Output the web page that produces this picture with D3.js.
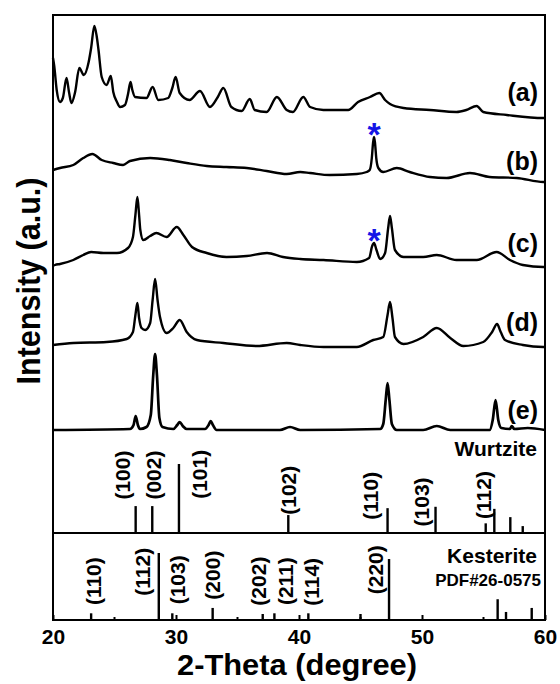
<!DOCTYPE html>
<html>
<head>
  <title>XRD patterns</title>
  <script src="https://d3js.org/d3.v7.min.js"></script>
  <style>
    body { margin: 0; background: #fff; }
    text { font-family: "Liberation Sans", Arial, sans-serif; font-weight: bold; fill: #000; }
  </style>
</head>
<body>
  <div id="chart"></div>

  <script>
    // measured patterns: [2-theta, intensity (a.u., stacked)]
    const traceA = [
      [20.0, 373], [20.1, 365], [20.3, 341], [20.57, 329], [20.8, 333], [21.1, 353], [21.3, 339],
      [21.5, 328], [21.8, 339], [22.14, 363], [22.5, 356], [22.9, 369], [23.1, 383], [23.36, 405],
      [23.55, 395], [23.7, 381], [23.96, 354], [24.36, 346], [24.7, 355], [24.9, 339], [25.2, 329],
      [25.45, 324], [25.85, 326], [26.1, 337], [26.3, 349], [26.45, 341], [26.67, 334], [27.6, 333],
      [28.1, 344], [28.56, 331], [29.37, 333], [29.7, 343], [29.97, 354], [30.3, 338], [31.1, 331],
      [31.95, 340], [32.76, 324], [33.4, 334], [33.85, 343], [34.5, 324], [35.34, 320], [36.0, 332],
      [36.4, 321], [37.37, 319], [38.2, 334], [39.0, 321], [39.5, 319], [40.35, 334], [40.9, 324],
      [41.98, 321], [44.0, 321], [44.8, 329], [45.77, 334], [46.53, 338], [47.0, 331], [47.4, 327],
      [48.5, 323], [50.65, 321], [52.8, 319], [53.6, 321], [54.45, 325], [54.98, 319], [56.9, 316],
      [59.86, 313], [60.0, 313]
    ];
    const traceB = [
      [20.0, 261], [20.57, 263], [21.65, 266], [22.46, 273], [23.2, 277], [23.96, 271], [24.9, 268],
      [25.7, 266], [26.26, 270], [27.9, 273], [29.5, 271], [30.87, 268], [32.5, 265], [34.1, 264],
      [35.75, 263], [37.37, 260], [39.0, 257], [40.1, 259], [40.9, 258], [42.5, 256], [44.7, 257],
      [45.5, 259], [45.75, 261], [45.92, 273], [46.02, 288], [46.1, 294], [46.18, 288], [46.28, 273],
      [46.45, 263], [46.85, 259], [47.95, 263], [49.0, 259], [50.65, 254], [52.0, 253], [53.9, 258],
      [55.5, 254], [57.7, 253], [59.86, 249], [60.0, 249]
    ];
    const traceC = [
      [20.0, 165], [20.16, 166], [20.57, 167], [21.65, 171], [22.46, 176], [23.1, 179], [24.1, 178],
      [25.2, 178], [26.1, 183], [26.5, 194], [26.7, 216], [26.86, 234], [27.0, 216], [27.1, 201],
      [27.34, 191], [27.9, 195], [28.4, 198], [29.24, 194], [30.06, 204], [30.6, 196], [31.3, 184],
      [32.5, 178], [34.1, 174], [35.75, 175], [37.4, 178], [38.7, 174], [40.1, 172], [42.0, 171],
      [44.7, 169], [45.7, 173], [45.95, 185], [46.1, 188], [46.3, 181], [46.6, 172], [47.0, 178],
      [47.25, 203], [47.4, 215], [47.55, 203], [47.8, 181], [48.5, 174], [50.1, 174], [51.2, 176],
      [52.8, 171], [54.45, 171], [56.07, 179], [57.15, 171], [58.2, 166], [59.86, 164], [60.0, 164]
    ];
    const traceD = [
      [20.0, 86], [21.65, 88], [24.36, 89], [25.99, 92], [26.5, 99], [26.7, 116], [26.86, 128],
      [27.0, 113], [27.2, 103], [27.5, 101], [27.9, 108], [28.1, 131], [28.3, 152], [28.5, 131],
      [28.7, 114], [29.24, 98], [29.78, 103], [30.3, 111], [30.87, 99], [31.7, 91], [33.85, 88],
      [36.56, 85], [39.0, 88], [40.1, 86], [42.0, 84], [44.7, 84], [46.04, 91], [46.85, 94],
      [47.2, 116], [47.4, 129], [47.6, 113], [47.8, 94], [48.5, 87], [50.1, 94], [51.2, 103],
      [52.3, 93], [53.36, 85], [54.98, 89], [55.7, 99], [56.1, 107], [56.4, 99], [56.75, 91],
      [58.2, 86], [59.86, 84], [60.0, 84]
    ];
    const traceE = [
      [20.0, 1], [26.26, 2], [26.55, 6], [26.72, 15], [26.9, 6], [27.07, 2], [27.6, 4], [27.95, 16],
      [28.15, 56], [28.3, 77], [28.45, 56], [28.65, 13], [28.9, 4], [29.78, 2], [30.1, 6], [30.3, 9],
      [30.55, 5], [30.87, 2], [32.36, 2], [32.65, 6], [32.82, 10], [33.0, 6], [33.3, 1], [38.45, 1],
      [39.27, 4], [40.1, 1], [46.6, 2], [46.85, 7], [47.05, 31], [47.2, 48], [47.35, 31], [47.55, 7],
      [47.95, 1], [50.1, 1], [51.2, 5], [52.3, 1], [55.5, 1], [55.75, 11], [55.98, 31], [56.2, 11],
      [56.45, 3], [57.15, 2], [57.3, 5], [57.5, 2], [58.6, 3], [60.0, 1]
    ];
    const traces = [traceA, traceB, traceC, traceD, traceE];
    const traceNames = ["(a)", "(b)", "(c)", "(d)", "(e)"];
    const traceNameLevel = [330, 261, 179, 100, 12];

    // impurity peak marks
    const starPos = [46.1, 46.1];
    const starLevel = [294, 188];

    // reference sticks
    const wurtzitePos = [26.72, 28.07, 30.24, 39.13, 47.2, 51.1, 55.18, 55.88, 57.18, 58.19];
    const wurtziteInt = [39, 39, 100, 26, 36, 38, 14, 35, 23, 10];
    const wurtziteLabels = ["(100)", "(002)", "(101)", "(102)", "(110)", "(103)", "(112)"];
    const wurtziteLabelPos = [25.61, 28.13, 31.87, 39.11, 45.77, 49.92, 54.96];
    const wurtziteLabelLevel = [84, 84, 85, 62, 54, 45, 55];

    const kesteritePos = [23.1, 28.6, 29.7, 32.98, 37.05, 38.0, 40.76, 45.0, 47.32, 56.15, 56.83, 58.92];
    const kesteriteInt = [10, 100, 10, 18, 9, 10, 10, 9, 91, 31, 12, 18];
    const kesteriteLabels = ["(110)", "(112)", "(103)", "(200)", "(202)", "(211)", "(114)", "(220)"];
    const kesteriteLabelPos = [23.25, 27.24, 30.08, 33.0, 36.67, 38.86, 40.98, 46.2];
    const kesteriteLabelLevel = [58, 72, 60, 67, 58, 58, 57, 75];

    const xTicks = [20, 30, 40, 50, 60];
    const xMinor = [25, 35, 45, 55];

    const width = 560;
    const height = 684;
    const margin = { top: 15, right: 15, bottom: 64, left: 53 };
    const mainBottom = 431;
    const wurtBottom = 533;

    const svg = d3.select("#chart")
      .append("svg")
      .attr("width", width)
      .attr("height", height);

    const xScale = d3.scaleLinear()
      .domain([20, 60])
      .range([margin.left, width - margin.right]);

    const yScale = d3.scaleLinear()
      .domain([0, 416])
      .range([mainBottom, margin.top]);

    const wScale = d3.scaleLinear()
      .domain([0, 100])
      .range([wurtBottom, 464]);

    const kScale = d3.scaleLinear()
      .domain([0, 100])
      .range([height - margin.bottom, 553]);

    const line = d3.line()
      .x(d => xScale(d[0]))
      .y(d => yScale(d[1]))
      .curve(d3.curveMonotoneX);

    // patterns
    svg.selectAll("path.trace")
      .data(traces)
      .enter()
      .append("path")
      .attr("class", "trace")
      .attr("d", line)
      .attr("fill", "none")
      .attr("stroke", "#000")
      .attr("stroke-width", (d, i) => i === 4 ? 2.7 : 2.4)
      .attr("stroke-linejoin", "round");

    svg.selectAll("text.name")
      .data(traceNames)
      .enter()
      .append("text")
      .attr("class", "name")
      .attr("x", 538)
      .attr("y", (d, i) => yScale(traceNameLevel[i]))
      .attr("text-anchor", "end")
      .attr("font-size", 25)
      .text(d => d);

    svg.selectAll("text.star")
      .data(starPos)
      .enter()
      .append("text")
      .attr("class", "star")
      .attr("x", d => xScale(d))
      .attr("y", (d, i) => yScale(starLevel[i]) + 9)
      .attr("text-anchor", "middle")
      .attr("font-size", 34)
      .style("fill", "#1515e6")
      .text("*");

    // Wurtzite panel
    svg.selectAll("line.wurt")
      .data(wurtzitePos)
      .enter()
      .append("line")
      .attr("class", "wurt")
      .attr("x1", d => xScale(d))
      .attr("x2", d => xScale(d))
      .attr("y1", wScale(0))
      .attr("y2", (d, i) => wScale(wurtziteInt[i]))
      .attr("stroke", "#000")
      .attr("stroke-width", 2.4);

    svg.selectAll("text.wlab")
      .data(wurtziteLabels)
      .enter()
      .append("text")
      .attr("class", "wlab")
      .attr("transform", (d, i) =>
        `translate(${xScale(wurtziteLabelPos[i])}, ${wScale(wurtziteLabelLevel[i])}) rotate(-90)`)
      .attr("text-anchor", "middle")
      .attr("dy", "0.36em")
      .attr("font-size", 21)
      .text(d => d);

    svg.append("text")
      .attr("x", 537)
      .attr("y", 456)
      .attr("text-anchor", "end")
      .attr("font-size", 21)
      .text("Wurtzite");

    // Kesterite panel
    svg.selectAll("line.kest")
      .data(kesteritePos)
      .enter()
      .append("line")
      .attr("class", "kest")
      .attr("x1", d => xScale(d))
      .attr("x2", d => xScale(d))
      .attr("y1", kScale(0))
      .attr("y2", (d, i) => kScale(kesteriteInt[i]))
      .attr("stroke", "#000")
      .attr("stroke-width", 2.4);

    svg.selectAll("text.klab")
      .data(kesteriteLabels)
      .enter()
      .append("text")
      .attr("class", "klab")
      .attr("transform", (d, i) =>
        `translate(${xScale(kesteriteLabelPos[i])}, ${kScale(kesteriteLabelLevel[i])}) rotate(-90)`)
      .attr("text-anchor", "middle")
      .attr("dy", "0.36em")
      .attr("font-size", 21)
      .text(d => d);

    svg.append("text")
      .attr("x", 537)
      .attr("y", 563)
      .attr("text-anchor", "end")
      .attr("font-size", 21)
      .text("Kesterite");

    svg.append("text")
      .attr("x", 541)
      .attr("y", 586)
      .attr("text-anchor", "end")
      .attr("font-size", 17)
      .text("PDF#26-0575");

    // frame and dividers
    const x0 = xScale(20), x1 = xScale(60);
    svg.append("rect")
      .attr("x", x0)
      .attr("y", margin.top)
      .attr("width", x1 - x0)
      .attr("height", height - margin.bottom - margin.top)
      .attr("fill", "none")
      .attr("stroke", "#000")
      .attr("stroke-width", 2);

    svg.append("line")
      .attr("x1", x0).attr("x2", x1)
      .attr("y1", wurtBottom).attr("y2", wurtBottom)
      .attr("stroke", "#000")
      .attr("stroke-width", 2);

    // x axis, ticks pointing inward
    const xAxis = d3.axisBottom(xScale)
      .tickValues(xTicks)
      .tickSize(-5)
      .tickPadding(9)
      .tickFormat(d3.format("d"));

    const gx = svg.append("g")
      .attr("class", "x-axis")
      .attr("transform", `translate(0, ${height - margin.bottom})`)
      .call(xAxis);
    gx.select(".domain").remove();
    gx.selectAll("line").attr("stroke-width", 2);
    gx.selectAll("text")
      .attr("font-size", 21)
      .attr("font-family", null);

    svg.append("g")
      .attr("transform", `translate(0, ${height - margin.bottom})`)
      .selectAll("line")
      .data(xMinor)
      .enter()
      .append("line")
      .attr("x1", d => xScale(d))
      .attr("x2", d => xScale(d))
      .attr("y1", 0)
      .attr("y2", -3)
      .attr("stroke", "#000")
      .attr("stroke-width", 2);

    // axis titles
    svg.append("text")
      .attr("x", 297)
      .attr("y", 675)
      .attr("text-anchor", "middle")
      .attr("font-size", 30)
      .attr("textLength", 240)
      .attr("lengthAdjust", "spacingAndGlyphs")
      .text("2-Theta (degree)");

    svg.append("text")
      .attr("transform", "translate(40, 281) rotate(-90)")
      .attr("text-anchor", "middle")
      .attr("font-size", 33)
      .attr("textLength", 207)
      .attr("lengthAdjust", "spacingAndGlyphs")
      .text("Intensity (a.u.)");
  </script>
</body>
</html>
